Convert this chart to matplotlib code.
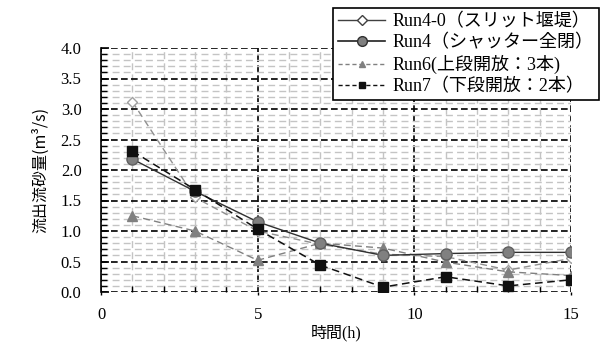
import numpy as np
import matplotlib
matplotlib.use("Agg")
import matplotlib.pyplot as plt
from matplotlib.lines import Line2D
from matplotlib.ticker import MultipleLocator, FormatStrFormatter

plt.rcParams['font.family'] = ['Liberation Serif', 'Noto Sans CJK JP']
plt.rcParams['mathtext.fontset'] = 'stix'

# data
hours = [1, 3, 5, 7, 9, 11, 13, 15]
run4_0 = [3.12, 1.55, 1.00, 0.78, 0.62, 0.58, 0.36, 0.55]
run4 = [2.18, 1.65, 1.15, 0.80, 0.60, 0.63, 0.65, 0.65]
run6 = [1.25, 1.00, 0.52, 0.80, 0.72, 0.49, 0.33, 0.27]
run7 = [2.31, 1.68, 1.03, 0.44, 0.08, 0.25, 0.10, 0.20]
labels = ['Run4-0（スリット堰堤）', 'Run4（シャッター全閉）',
          'Run6(上段開放：3本)', 'Run7（下段開放：2本）']

fig = plt.figure(figsize=(6.06, 3.47), dpi=100)
ax = fig.add_axes([101/606, 1-292/347, 470/606, 244/347])

ax.plot(hours, run4_0, color='#909090', lw=1.0, ls=(0, (5, 3)), marker='D', ms=5,
        mfc='white', mec='#a0a0a0', zorder=3)
ax.plot(hours, run6, color='#808080', lw=1.0, ls=(0, (5, 3)), marker='^', ms=7,
        mfc='#808080', mec='#808080', zorder=4)
ax.plot(hours, run4, color='#303030', lw=1.0, ls='-', marker='o', ms=8,
        mfc='#808080', mec='#606060', zorder=5)
ax.plot(hours, run7, color='#101010', lw=1.1, ls=(0, (5, 3)), marker='s', ms=7,
        mfc='#101010', mec='#101010', zorder=6)

ax.set_xlim(0, 15)
ax.set_ylim(0, 4.0)
ax.xaxis.set_major_locator(MultipleLocator(5))
ax.xaxis.set_minor_locator(MultipleLocator(1))
ax.yaxis.set_major_locator(MultipleLocator(0.5))
ax.yaxis.set_minor_locator(MultipleLocator(0.1))
ax.yaxis.set_major_formatter(FormatStrFormatter('%.1f'))

ax.grid(which='minor', color='#c4c4c4', lw=1.0, ls=(0, (5, 3)), zorder=0)
ax.grid(which='major', color='black', lw=1.2, ls=(0, (4, 2)), zorder=1)
ax.set_axisbelow(True)

for s in ['top', 'right', 'bottom']:
    ax.spines[s].set_visible(False)
ax.spines['left'].set_linewidth(1.2)

ax.tick_params(axis='y', which='both', direction='in', left=True, pad=14, labelsize=12)
ax.tick_params(axis='y', which='major', length=6, width=1.2)
ax.tick_params(axis='y', which='minor', length=4, width=1.0)
ax.tick_params(axis='x', which='major', direction='out', length=2, width=1.0, pad=9, labelsize=12)
ax.tick_params(axis='x', which='minor', direction='in', length=4, width=1.0)

ax.set_ylabel('流出流砂量(m³/s)', fontsize=11.5, labelpad=8, family='Noto Sans CJK JP')
ax.set_xlabel('時間(h)', fontsize=11.5, labelpad=1)

handles = [
    Line2D([], [], color='#404040', lw=1.0, marker='D', ms=5, mfc='white', mec='#404040'),
    Line2D([], [], color='#202020', lw=1.2, marker='o', ms=7, mfc='#808080', mec='#303030'),
    Line2D([], [], color='#808080', lw=1.0, ls=(0, (3, 2)), marker='^', ms=5, mfc='#808080', mec='#808080'),
    Line2D([], [], color='#101010', lw=1.0, ls=(0, (3, 2)), marker='s', ms=5, mfc='#101010', mec='#101010'),
]
leg = fig.legend(handles, labels, loc='upper left', bbox_to_anchor=(333/606, 1-8/347),
                 fontsize=13, frameon=True, fancybox=False, edgecolor='black',
                 framealpha=1, handlelength=2.6, handletextpad=0.4,
                 labelspacing=0.2, borderpad=0.3, borderaxespad=0)
leg.get_frame().set_linewidth(1.2)
leg.set_zorder(10)

fig.savefig('out.png', dpi=100)
